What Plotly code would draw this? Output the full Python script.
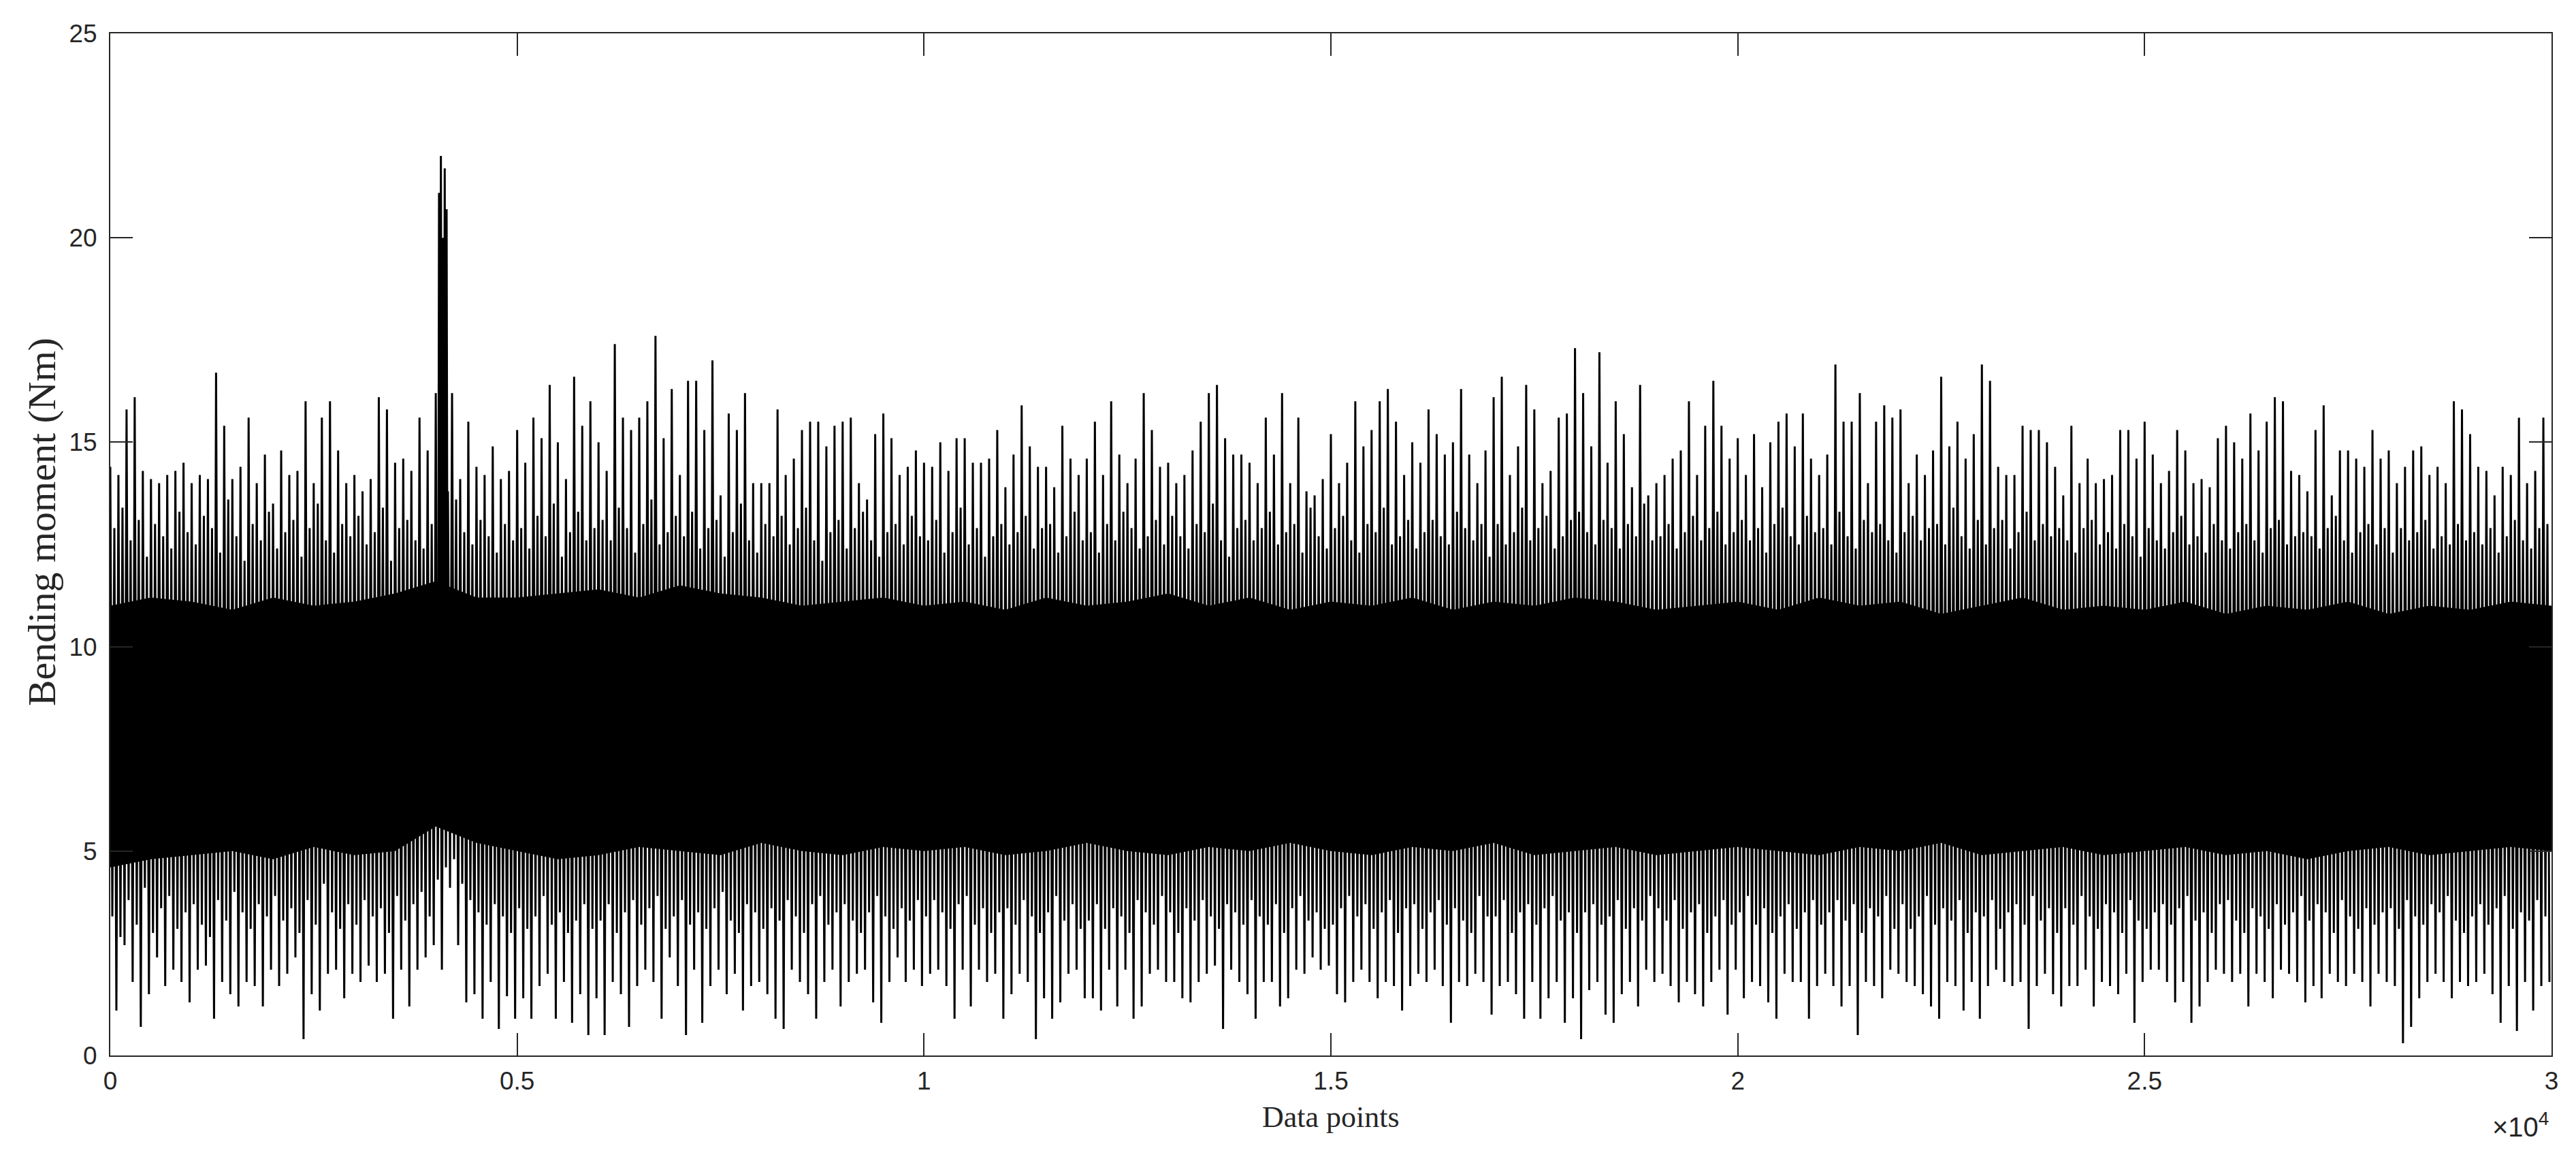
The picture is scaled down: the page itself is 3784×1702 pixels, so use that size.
import plotly.graph_objects as go

# ---- data ----
# largest local maxima, one per 100 samples (sample 0,100,...,29900)
peaks = [
    14.4, 14.2, 15.8, 16.1, 14.3, 14.1, 14.0, 14.2, 14.3, 14.5,
    14.0, 14.2, 14.1, 16.7, 15.4, 14.1, 14.4, 15.6, 14.0, 14.7,
    13.5, 14.8, 14.2, 14.3, 16.0, 14.0, 15.6, 16.0, 14.8, 14.0,
    14.2, 13.8, 14.1, 16.1, 15.8, 14.5, 14.6, 14.3, 15.6, 14.8,
    16.2, 13.8, 16.2, 14.1, 15.5, 14.4, 14.2, 14.9, 14.1, 14.3,
    15.3, 14.5, 15.6, 15.1, 16.4, 15.0, 14.1, 16.6, 15.4, 16.0,
    15.0, 14.3, 17.4, 15.6, 15.3, 15.6, 16.0, 17.6, 15.1, 16.3,
    14.2, 16.5, 16.5, 15.3, 17.0, 13.7, 15.7, 15.3, 16.2, 14.0,
    14.0, 14.0, 15.8, 14.2, 14.6, 15.3, 15.5, 15.5, 14.9, 15.4,
    15.5, 15.6, 14.0, 13.6, 15.2, 15.7, 15.1, 14.2, 14.4, 14.8,
    14.5, 14.4, 15.0, 14.3, 15.1, 15.1, 14.5, 14.5, 14.6, 15.3,
    13.9, 14.7, 15.9, 14.9, 14.4, 14.4, 13.9, 15.4, 14.6, 14.2,
    14.6, 15.5, 14.2, 16.0, 14.7, 14.0, 14.6, 16.2, 15.3, 14.4,
    14.5, 14.0, 14.2, 14.8, 15.5, 16.2, 16.4, 15.1, 14.7, 14.7,
    14.5, 14.0, 15.6, 14.7, 16.2, 14.0, 15.6, 13.8, 13.7, 14.1,
    15.2, 14.0, 14.5, 16.0, 14.9, 15.3, 16.0, 16.3, 15.5, 14.2,
    15.0, 14.5, 15.8, 15.2, 14.7, 15.0, 16.3, 14.7, 14.0, 14.8,
    16.1, 16.6, 14.2, 14.9, 16.4, 15.8, 14.0, 14.3, 15.6, 15.7,
    17.3, 16.2, 14.9, 17.2, 14.5, 16.0, 15.2, 13.9, 16.4, 13.7,
    14.0, 14.2, 14.6, 14.8, 16.0, 14.2, 15.4, 16.5, 15.4, 14.6,
    15.1, 14.2, 15.2, 13.9, 15.0, 15.5, 15.7, 14.9, 15.7, 14.6,
    14.2, 14.7, 16.9, 15.5, 15.5, 16.2, 14.0, 15.5, 15.9, 15.6,
    15.8, 14.0, 14.7, 14.2, 14.8, 16.6, 14.9, 15.5, 14.6, 15.2,
    16.9, 16.5, 14.4, 14.2, 14.2, 15.4, 15.3, 15.3, 15.0, 14.4,
    13.7, 15.4, 14.0, 14.6, 14.0, 14.1, 14.2, 15.3, 15.3, 14.6,
    15.5, 14.7, 14.0, 14.3, 15.3, 14.8, 14.0, 14.1, 13.9, 15.1,
    15.4, 15.0, 14.6, 15.7, 14.8, 15.5, 16.1, 16.0, 14.3, 14.2,
    13.8, 15.3, 15.9, 13.7, 14.8, 14.8, 14.6, 14.4, 15.3, 14.6,
    14.8, 14.0, 14.4, 14.8, 14.9, 14.2, 14.4, 14.0, 16.0, 15.8,
    15.2, 14.4, 14.3, 13.7, 14.4, 14.2, 15.6, 14.0, 14.3, 15.6,
]
# secondary (typical) local minima, sample 25,125,...
mid_troughs = [
    3.4, 2.9, 3.8, 3.2, 4.1, 3.0, 3.6, 3.9, 3.1, 3.5,
    3.7, 3.2, 2.9, 3.8, 3.3, 4.0, 3.5, 3.1, 3.7, 3.4,
    3.9, 3.3, 3.6, 3.0, 3.8, 3.2, 4.2, 3.5, 3.1, 3.7,
    3.2, 3.8, 3.4, 3.6, 3.0, 3.9, 3.3, 3.7, 4.0, 3.4,
    4.3, 4.6, 4.8, 4.2, 3.8, 3.5, 3.2, 3.7, 3.4, 3.0,
    3.6, 3.1, 3.4, 3.9, 3.2, 3.5, 3.0, 3.3, 3.7, 3.1,
    3.3, 3.7, 3.0, 3.5, 3.8, 3.2, 3.6, 3.9, 3.1, 3.4,
    3.8, 3.2, 3.5, 3.1, 3.6, 4.0, 3.3, 3.0, 3.7, 3.5,
    3.1, 3.6, 3.3, 3.8, 3.4, 3.0, 3.7, 3.9, 3.2, 3.5,
    3.7, 3.3, 3.0, 3.5, 3.9, 3.4, 3.1, 3.6, 3.3, 3.8,
    3.4, 3.8, 3.5, 3.1, 3.7, 3.9, 3.2, 3.6, 3.0, 3.5,
    3.6, 3.2, 3.8, 3.4, 3.0, 3.5, 3.9, 3.3, 3.7, 3.1,
    3.3, 3.7, 3.1, 3.6, 3.4, 3.0, 3.8, 3.5, 3.2, 3.9,
    3.5, 3.0, 3.6, 3.3, 3.8, 3.4, 3.1, 3.7, 3.5, 3.2,
    3.8, 3.4, 3.2, 3.7, 3.0, 3.6, 3.9, 3.3, 3.5, 3.1,
    3.2, 3.6, 3.9, 3.4, 3.7, 3.1, 3.5, 3.8, 3.0, 3.6,
    3.7, 3.1, 3.5, 3.8, 3.2, 3.6, 3.3, 3.0, 3.9, 3.4,
    3.4, 3.8, 3.0, 3.5, 3.7, 3.2, 3.6, 3.9, 3.3, 3.5,
    3.0, 3.5, 3.7, 3.2, 3.4, 3.8, 3.1, 3.6, 3.3, 3.9,
    3.6, 3.3, 3.8, 3.1, 3.5, 3.7, 3.0, 3.4, 3.8, 3.2,
    3.5, 3.9, 3.2, 3.6, 3.0, 3.4, 3.7, 3.1, 3.5, 3.8,
    3.2, 3.5, 3.8, 3.3, 3.7, 3.0, 3.6, 3.4, 3.9, 3.1,
    3.7, 3.1, 3.4, 3.9, 3.2, 3.6, 3.3, 3.8, 3.0, 3.5,
    3.4, 3.8, 3.1, 3.5, 3.7, 3.2, 3.9, 3.3, 3.6, 3.0,
    3.6, 3.2, 3.9, 3.4, 3.1, 3.7, 3.5, 3.0, 3.8, 3.3,
    3.1, 3.5, 3.7, 3.2, 3.6, 3.9, 3.3, 3.5, 3.0, 3.7,
    3.8, 3.3, 3.0, 3.6, 3.4, 3.1, 3.7, 3.2, 3.5, 3.9,
    3.3, 3.7, 3.5, 3.0, 3.8, 3.4, 3.1, 3.6, 3.2, 3.5,
    3.6, 3.1, 3.8, 3.4, 3.2, 3.7, 3.5, 3.9, 3.3, 3.0,
    3.4, 3.7, 3.2, 3.6, 3.9, 3.1, 3.5, 3.3, 3.8, 3.4,
]
# secondary (typical) local maxima, sample 50,150,...
mid_peaks = [
    12.9, 13.4, 12.6, 13.1, 12.2, 13.0, 12.7, 12.4, 13.3, 12.8,
    12.5, 13.2, 12.9, 12.3, 13.6, 12.7, 12.1, 13.0, 12.6, 13.3,
    12.4, 12.8, 13.1, 12.2, 12.9, 13.5, 12.6, 12.3, 13.0, 12.7,
    13.2, 12.5, 12.8, 13.4, 12.1, 12.9, 13.1, 12.6, 12.4, 13.0,
    13.4, 13.8, 13.6, 12.8, 12.5, 13.1, 12.7, 12.3, 13.0, 12.6,
    12.9, 12.4, 13.2, 12.7, 13.5, 12.2, 12.8, 13.3, 12.6, 12.9,
    13.1, 12.6, 13.4, 12.9, 12.3, 13.0, 13.6, 12.5, 12.8, 13.2,
    12.7, 13.3, 12.4, 12.9, 13.1, 12.2, 12.8, 13.5, 12.6, 12.3,
    13.0, 12.7, 13.2, 12.5, 12.9, 13.4, 12.6, 12.1, 12.8, 13.1,
    12.4, 12.9, 13.3, 12.6, 12.2, 12.8, 13.0, 12.5, 13.2, 12.7,
    12.6, 13.1, 12.3, 12.8, 13.4, 12.5, 12.9, 12.2, 12.7, 13.0,
    12.5, 12.8, 13.2, 12.4, 12.9, 13.0, 12.3, 12.7, 13.3, 12.6,
    12.8, 12.3, 13.0, 12.6, 13.3, 12.9, 12.4, 12.7, 13.1, 12.5,
    13.2, 12.7, 12.4, 13.0, 12.8, 13.5, 12.6, 12.2, 12.9, 13.1,
    12.6, 12.9, 13.3, 12.5, 12.8, 13.0, 12.3, 13.4, 12.7, 12.4,
    12.9, 13.2, 12.6, 12.3, 13.0, 12.8, 13.4, 12.5, 12.7, 13.1,
    12.4, 12.8, 13.1, 12.7, 12.5, 13.3, 12.9, 12.6, 13.0, 12.2,
    13.0, 12.5, 12.8, 13.4, 12.6, 12.9, 13.2, 12.4, 12.7, 13.1,
    13.3, 12.8, 12.5, 13.1, 12.9, 12.4, 13.0, 12.7, 13.5, 12.6,
    12.7, 13.0, 12.4, 12.8, 13.2, 12.6, 12.9, 13.3, 12.5, 12.8,
    13.1, 12.6, 12.9, 12.3, 13.0, 13.4, 12.7, 12.5, 13.2, 12.8,
    12.9, 12.5, 13.3, 12.7, 12.4, 13.1, 12.8, 13.0, 12.6, 12.3,
    12.8, 13.2, 12.6, 12.9, 13.0, 12.5, 13.4, 12.7, 12.4, 13.1,
    12.5, 12.9, 13.1, 12.4, 12.8, 13.3, 12.6, 13.0, 12.7, 12.9,
    12.6, 12.3, 12.9, 13.1, 12.5, 12.8, 12.4, 13.0, 12.7, 12.2,
    12.9, 12.6, 12.4, 12.8, 13.2, 12.5, 12.7, 12.3, 13.0, 12.6,
    12.4, 12.8, 13.0, 12.6, 12.3, 12.9, 13.1, 12.5, 12.7, 12.8,
    12.7, 12.4, 12.9, 13.2, 12.6, 12.3, 12.8, 13.0, 12.5, 12.9,
    12.3, 12.9, 12.6, 12.8, 13.1, 12.4, 12.7, 12.5, 13.0, 12.6,
    12.8, 12.5, 12.9, 12.3, 12.7, 13.1, 12.6, 12.4, 12.9, 13.0,
]
# deepest local minima, sample 75,175,...
troughs = [
    1.1, 2.7, 1.8, 0.7, 1.5, 2.4, 1.7, 2.1, 1.8, 1.3,
    2.1, 2.2, 0.9, 1.8, 1.5, 1.2, 1.8, 1.7, 1.2, 2.1,
    1.7, 2.0, 2.4, 0.4, 1.5, 1.1, 2.0, 2.1, 1.4, 2.0,
    1.8, 2.2, 1.8, 2.0, 0.9, 2.1, 1.2, 2.1, 2.4, 2.7,
    2.1, 4.1, 2.7, 1.3, 1.5, 0.9, 1.8, 0.65, 1.45, 0.9,
    1.4, 0.9, 1.7, 2.0, 0.9, 1.8, 0.8, 1.5, 0.5, 1.4,
    0.5, 1.8, 1.5, 0.7, 1.7, 2.1, 1.8, 0.9, 2.4, 1.7,
    0.5, 2.1, 0.8, 1.7, 2.1, 1.5, 2.0, 1.1, 1.7, 1.8,
    1.5, 0.9, 0.65, 2.1, 1.8, 1.5, 0.9, 1.8, 2.1, 1.2,
    1.8, 2.0, 2.1, 1.3, 0.8, 1.8, 2.4, 1.8, 2.1, 1.7,
    2.0, 2.1, 1.7, 0.9, 2.1, 1.2, 2.1, 1.8, 2.0, 0.9,
    1.5, 2.0, 1.8, 0.4, 1.4, 0.9, 1.3, 2.0, 2.1, 1.4,
    1.4, 1.1, 2.1, 1.2, 2.1, 0.9, 1.2, 2.0, 2.1, 1.8,
    1.8, 1.4, 1.3, 1.8, 2.0, 2.2, 0.65, 2.1, 1.8, 1.5,
    0.9, 1.8, 1.8, 1.2, 1.4, 2.1, 2.0, 2.4, 2.1, 2.2,
    1.5, 1.3, 1.8, 2.1, 1.8, 1.4, 1.8, 1.7, 1.1, 1.7,
    2.0, 1.8, 2.1, 1.7, 0.8, 1.8, 1.7, 2.0, 1.8, 1.0,
    1.7, 1.8, 1.5, 0.9, 1.8, 0.9, 1.4, 1.8, 0.8, 1.4,
    0.4, 1.6, 1.8, 1.0, 0.8, 1.5, 1.8, 1.2, 2.1, 1.8,
    2.0, 1.7, 1.3, 1.8, 1.5, 1.2, 1.8, 2.1, 1.0, 2.1,
    1.4, 1.8, 1.7, 1.3, 0.9, 2.0, 1.8, 1.8, 0.9, 1.7,
    2.0, 1.7, 1.2, 1.7, 0.5, 1.8, 1.7, 1.4, 2.1, 2.0,
    1.8, 1.7, 1.5, 1.2, 0.9, 1.8, 1.7, 1.1, 1.8, 0.9,
    1.7, 2.1, 1.8, 1.7, 1.8, 0.65, 1.7, 2.0, 1.5, 1.2,
    1.7, 1.7, 2.1, 1.2, 1.8, 1.7, 1.5, 2.0, 0.8, 1.8,
    2.1, 2.1, 1.8, 1.3, 1.8, 0.8, 1.2, 1.8, 2.1, 2.0,
    1.8, 2.0, 1.2, 2.0, 1.8, 1.4, 2.1, 2.0, 1.8, 1.3,
    1.7, 1.4, 2.0, 1.8, 1.7, 2.0, 1.8, 1.2, 2.0, 1.8,
    1.7, 0.3, 0.7, 1.4, 1.8, 2.0, 1.8, 1.4, 1.8, 1.7,
    1.8, 2.0, 1.5, 0.8, 1.7, 0.6, 1.8, 1.1, 1.7, 1.8,
]
# dense (visually solid) core of the signal, upper / lower edge every 500 samples
core_upper = [
    11.0, 11.2, 11.1, 10.9, 11.2, 11.0, 11.1, 11.3, 11.6, 11.2,
    11.2, 11.3, 11.4, 11.2, 11.5, 11.3, 11.2, 11.0, 11.1, 11.2,
    11.0, 11.1, 10.9, 11.2, 11.0, 11.1, 11.3, 11.0, 11.2, 10.9,
    11.1, 11.0, 11.2, 10.9, 11.1, 11.0, 11.2, 11.1, 10.9, 11.0,
    11.1, 10.9, 11.2, 11.0, 11.1, 10.8, 11.0, 11.2, 10.9, 11.0,
    10.9, 11.1, 10.8, 11.0, 10.9, 11.1, 10.8, 11.0, 10.9, 11.1, 11.0,
]
core_lower = [
    4.6, 4.8, 4.9, 5.0, 4.8, 5.1, 4.9, 5.0, 5.6, 5.2,
    5.0, 4.8, 4.9, 5.1, 5.0, 4.9, 5.2, 5.0, 4.9, 5.1,
    5.0, 5.1, 4.9, 5.0, 5.2, 5.0, 4.9, 5.1, 5.0, 5.2,
    5.0, 4.9, 5.1, 5.0, 5.2, 4.9, 5.0, 5.1, 4.9, 5.0,
    5.1, 5.0, 4.9, 5.1, 5.0, 5.2, 4.9, 5.0, 5.1, 4.9,
    5.0, 5.1, 4.9, 5.0, 4.8, 5.0, 5.1, 4.9, 5.0, 5.1, 5.0,
]
# short burst near sample 4000-4150
burst_x = [4030, 4040, 4052, 4063, 4075, 4087, 4098, 4110, 4122, 4133, 4145]
burst_y = [9.0, 21.1, 9.5, 22.0, 10.0, 20.0, 9.5, 21.7, 10.0, 20.7, 9.0]

x_tickvals = [0, 5000, 10000, 15000, 20000, 25000, 30000]
x_ticktext = ["0", "0.5", "1", "1.5", "2", "2.5", "3"]
y_tickvals = [0, 5, 10, 15, 20, 25]

# ---- build traces ----
sig_x, sig_y = [], []
for i in range(len(peaks)):
    sig_x += [i * 100, i * 100 + 25, i * 100 + 50, i * 100 + 75]
    sig_y += [peaks[i], mid_troughs[i], mid_peaks[i], troughs[i]]
core_x = [i * 500 for i in range(len(core_upper))]

fig = go.Figure()
fig.add_trace(go.Scatter(x=core_x, y=core_upper, mode="lines",
                         line=dict(width=0, color="black"), showlegend=False, hoverinfo="skip"))
fig.add_trace(go.Scatter(x=core_x, y=core_lower, mode="lines", fill="tonexty",
                         fillcolor="black", line=dict(width=0, color="black"),
                         showlegend=False, hoverinfo="skip"))
fig.add_trace(go.Scatter(x=sig_x, y=sig_y, mode="lines",
                         line=dict(width=3, color="black", simplify=False), showlegend=False))
fig.add_trace(go.Scatter(x=burst_x, y=burst_y, mode="lines",
                         line=dict(width=3, color="black", simplify=False), showlegend=False))

axis_common = dict(
    showline=True, linecolor="#262626", linewidth=2, mirror="ticks",
    ticks="inside", ticklen=33, tickwidth=2, tickcolor="#262626",
    showgrid=False, zeroline=False,
    tickfont=dict(family="Liberation Sans, Arial, sans-serif", size=37, color="#262626"),
)
fig.update_xaxes(range=[0, 30000], tickvals=x_tickvals, ticktext=x_ticktext,
                 ticklabelstandoff=4, **axis_common)
fig.update_yaxes(range=[0, 25], tickvals=y_tickvals, ticklabelstandoff=10, **axis_common)

fig.update_layout(
    width=3784, height=1702,
    margin=dict(l=154, r=44, t=41, b=160),
    paper_bgcolor="white", plot_bgcolor="white",
    annotations=[
        dict(text="Data points", xref="paper", yref="paper", x=0.5, y=-0.06,
             xanchor="center", yanchor="middle", showarrow=False,
             font=dict(family="Liberation Serif, Times New Roman, serif", size=44, color="#262626")),
        dict(text="Bending moment (Nm)", xref="paper", yref="paper", x=-0.028, y=0.522,
             xanchor="center", yanchor="middle", textangle=-90, showarrow=False,
             font=dict(family="Liberation Serif, Times New Roman, serif", size=58, color="#262626")),
        dict(text="×10<sup>4</sup>", xref="paper", yref="paper", x=0.9994, y=-0.068,
             xanchor="right", yanchor="middle", showarrow=False,
             font=dict(family="Liberation Sans, Arial, sans-serif", size=40, color="#262626")),
    ],
)

fig.write_html("out.html")
